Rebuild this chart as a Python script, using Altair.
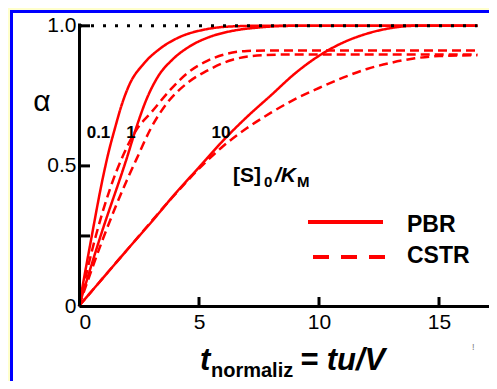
import altair as alt
import pandas as pd

# ---- data ----
t_pbr_01 = [0, 0.5, 1.0, 1.25, 1.5, 1.75, 2.1, 2.7, 3.4, 4.2, 5.2, 6.2, 7.5, 16.6]
a_pbr_01 = [0, 0.235, 0.46, 0.555, 0.635, 0.71, 0.79, 0.865, 0.92, 0.96, 0.986, 0.997, 1.0, 1.0]

t_pbr_1 = [0, 0.9, 2.0, 2.4, 2.8, 3.3, 3.9, 4.6, 5.5, 6.4, 7.5, 9.0, 16.6]
a_pbr_1 = [0, 0.25, 0.53, 0.64, 0.735, 0.82, 0.88, 0.926, 0.962, 0.982, 0.994, 1.0, 1.0]

t_pbr_10 = [0, 1, 2, 3, 4, 5, 6, 7, 8, 9, 10, 11, 12, 13, 14, 16.6]
a_pbr_10 = [0, 0.1, 0.2, 0.298, 0.4, 0.495, 0.59, 0.675, 0.752, 0.83, 0.893, 0.94, 0.972, 0.992, 1.0, 1.0]

t_cstr_01 = [0, 0.7, 1.3, 1.85, 2.4, 3.0, 3.8, 4.5, 5.3, 6.15, 7.0, 8.0, 16.6]
a_cstr_01 = [0, 0.25, 0.42, 0.54, 0.63, 0.69, 0.771, 0.83, 0.873, 0.9, 0.91, 0.912, 0.912]

t_cstr_1 = [0, 1.0, 2.0, 2.4, 3.0, 3.65, 4.5, 5.3, 6.4, 7.7, 9.0, 16.6]
a_cstr_1 = [0, 0.24, 0.45, 0.525, 0.635, 0.722, 0.795, 0.838, 0.879, 0.895, 0.898, 0.898]

t_cstr_10 = [0, 2, 4, 5, 6, 7, 8, 9, 10, 11, 12, 13, 14, 15, 16.6]
a_cstr_10 = [0, 0.2, 0.398, 0.49, 0.57, 0.635, 0.69, 0.738, 0.778, 0.815, 0.846, 0.868, 0.884, 0.892, 0.895]

reactors = ["PBR", "CSTR"]
ratio_labels = ["0.1", "1", "10"]
x_label_values = [0, 5, 10, 15]
y_label_values = [0, 0.5, 1.0]
x_tick_values = [5, 10, 15]
y_tick_values = [0.25, 0.5, 1.0]
full_line_t = [0, 16.6]
full_line_a = [1.0, 1.0]

series = [
    ("PBR", "0.1", t_pbr_01, a_pbr_01),
    ("PBR", "1", t_pbr_1, a_pbr_1),
    ("PBR", "10", t_pbr_10, a_pbr_10),
    ("CSTR", "0.1", t_cstr_01, a_cstr_01),
    ("CSTR", "1", t_cstr_1, a_cstr_1),
    ("CSTR", "10", t_cstr_10, a_cstr_10),
]
rows = []
for reactor, ratio, ts, als in series:
    for t, a in zip(ts, als):
        rows.append({"t": t, "alpha": a, "reactor": reactor, "ratio": ratio})
df = pd.DataFrame(rows)

FONT = "Liberation Sans"
RED = "#ff0000"

xscale = alt.Scale(domain=[0, 17.083], nice=False)
yscale = alt.Scale(domain=[0, 1.01], nice=False)
xaxis = alt.Axis(values=x_label_values, tickSize=0, labelFontSize=21, labelFont=FONT,
                 labelColor="black", domainColor="black", domainWidth=3, grid=False,
                 labelPadding=5, title=None, zindex=1)
yaxis = alt.Axis(values=y_label_values, tickSize=0, labelFontSize=21, labelFont=FONT,
                 labelColor="black", domainColor="black", domainWidth=3, grid=False,
                 labelPadding=3, title=None, zindex=1,
                 labelExpr="datum.value == 0 ? '0' : format(datum.value, '.1f')")

one = alt.Data(values=[{"k": 0}])

frame = alt.Chart(one).mark_rect(fill="white", stroke="#0000ff", strokeWidth=3).encode(
    x=alt.value(-67.5), x2=alt.value(520), y=alt.value(-11.5), y2=alt.value(420)
)

curves = alt.Chart(df).mark_line(color=RED, strokeWidth=2.5, interpolate="monotone").encode(
    x=alt.X("t:Q", scale=xscale, axis=xaxis),
    y=alt.Y("alpha:Q", scale=yscale, axis=yaxis),
    strokeDash=alt.StrokeDash("reactor:N", scale=alt.Scale(domain=reactors, range=[[1, 0], [9, 5]]), legend=None),
    detail="ratio:N",
)

dotted = alt.Chart(pd.DataFrame({"t": full_line_t, "alpha": full_line_a})).mark_line(
    color="black", strokeWidth=3, strokeDash=[3, 9]
).encode(x=alt.X("t:Q", scale=xscale, axis=xaxis), y=alt.Y("alpha:Q", scale=yscale, axis=yaxis))

yticks = alt.Chart(pd.DataFrame({"alpha": y_tick_values})).mark_rule(color="black", strokeWidth=3).encode(
    y=alt.Y("alpha:Q", scale=yscale, axis=yaxis), x=alt.value(0), x2=alt.value(11)
)
xticks = alt.Chart(pd.DataFrame({"t": x_tick_values})).mark_rule(color="black", strokeWidth=3).encode(
    x=alt.X("t:Q", scale=xscale, axis=xaxis), y=alt.value(283), y2=alt.value(274)
)


def txt(s, x, y, size, weight="normal", style="normal", align="left", baseline="alphabetic", color="black"):
    return alt.Chart(one).mark_text(
        text=s, font=FONT, fontSize=size, fontWeight=weight, fontStyle=style,
        align=align, baseline=baseline, color=color
    ).encode(x=alt.value(x), y=alt.value(y))


texts = [
    txt("α", -37, 79, 30, align="center", baseline="middle"),
    txt(ratio_labels[0], 19.5, 115, 17, weight="bold", align="center"),
    txt(ratio_labels[1], 52, 115, 17, weight="bold", align="center"),
    txt(ratio_labels[2], 142, 115, 17, weight="bold", align="center"),
    txt("[S]", 154, 159, 21, weight="bold"),
    txt("0", 185, 164, 15, weight="bold"),
    txt("/K", 196, 159, 21, weight="bold", style="italic"),
    txt("M", 218, 164, 15, weight="bold"),
    txt(reactors[0], 328, 209, 23, weight="bold"),
    txt(reactors[1], 328, 240, 23, weight="bold"),
    txt("t", 121, 347, 31, weight="bold", style="italic"),
    txt("normaliz", 132, 354, 20, weight="bold"),
    txt("= tu/V", 221, 347, 31, weight="bold", style="italic"),
    txt("!", 393, 327, 9, color="#777777"),
]

leg_solid = alt.Chart(one).mark_rule(color=RED, strokeWidth=4).encode(
    x=alt.value(229), x2=alt.value(304), y=alt.value(199)
)
leg_dash = alt.Chart(one).mark_rule(color=RED, strokeWidth=4, strokeDash=[16, 12]).encode(
    x=alt.value(234), x2=alt.value(306), y=alt.value(234)
)

chart = alt.layer(frame, curves, dotted, yticks, xticks, leg_solid, leg_dash, *texts).properties(
    width=410, height=283,
    autosize=alt.AutoSizeParams(type="none"),
    padding={"left": 71, "top": 15, "right": 0, "bottom": 75},
    background="#FFFFCC",
).configure_view(strokeWidth=0)

chart.save("out.html", embed_options={"renderer": "svg", "actions": False})
